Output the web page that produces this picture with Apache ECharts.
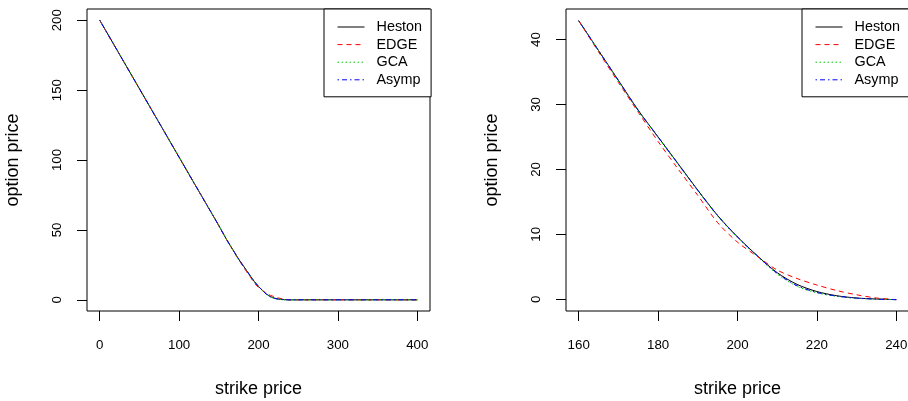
<!DOCTYPE html>
<html>
<head>
<meta charset="utf-8">
<script src="https://cdn.jsdelivr.net/npm/echarts@6/dist/echarts.min.js"></script>
<style>
  html, body { margin: 0; padding: 0; background: #fff; }
  #chart { width: 908px; height: 401px; }
</style>
</head>
<body>
<div id="chart"></div>
<script>
// Strike grid for the close-up panel (160..240)
const strikesNear = [160, 165, 170, 175, 180, 185, 190, 195, 200, 205, 210, 215, 220, 225, 230, 235, 240];
const hestonNear  = [42.9, 38.3, 33.7, 29.1, 25.0, 20.9, 16.8, 12.9, 9.6, 6.7, 4.1, 2.3, 1.2, 0.55, 0.2, 0.05, -0.05];
const edgeNear    = [42.9, 38.1, 33.4, 28.8, 24.3, 20.1, 16.0, 11.8, 8.8, 6.6, 4.5, 3.2, 2.2, 1.35, 0.7, 0.2, -0.05];
const gcaNear     = [42.9, 38.3, 33.6, 29.0, 24.9, 20.8, 16.7, 12.8, 9.5, 6.6, 3.9, 2.0, 1.0, 0.45, 0.15, 0.02, -0.05];
const asympNear   = [42.9, 38.3, 33.7, 29.1, 25.0, 20.9, 16.8, 12.9, 9.6, 6.7, 4.0, 2.1, 1.05, 0.5, 0.18, 0.03, -0.05];

// Deep in-the-money part and far out-of-the-money tail of the full panel
const strikesLow  = [0, 20, 40, 60, 80, 100, 120, 140, 150];
const pricesLow   = [200, 180.4, 160.8, 141.2, 121.6, 102.0, 82.4, 62.9, 53.1];
const strikesHigh = [250, 275, 300, 325, 350, 375, 400];
const pricesHigh  = [0, 0, 0, 0, 0, 0, 0];

// Axis ticks
const xTicksFull = [0, 100, 200, 300, 400];
const yTicksFull = [0, 50, 100, 150, 200];
const xTicksNear = [160, 180, 200, 220, 240];
const yTicksNear = [0, 10, 20, 30, 40];

const seriesNames = ['Heston', 'EDGE', 'GCA', 'Asymp'];
const nearValues = [hestonNear, edgeNear, gcaNear, asympNear];

const FONT = '"Liberation Sans", Arial, Helvetica, sans-serif';
const styles = [
  { color: '#000000', type: 'solid' },
  { color: '#ff0000', type: [5, 4] },
  { color: '#00cd00', type: [1.5, 2.5] },
  { color: '#0000ff', type: [1.5, 3, 5, 3] }
];

function pairs(xs, ys) { return xs.map((x, i) => [x, ys[i]]); }

const strikesFull = strikesLow.concat(strikesNear, strikesHigh);

function xAxisCfg(gridIndex, min, max, ticks) {
  return {
    type: 'value', gridIndex, min, max, position: 'bottom',
    name: 'strike price', nameLocation: 'middle', nameGap: 69,
    nameTextStyle: { fontFamily: FONT, fontSize: 18, color: '#000' },
    axisLine: { show: false, onZero: false },
    splitLine: { show: false },
    axisTick: { show: true, inside: false, length: 10, customValues: ticks, lineStyle: { color: '#000', width: 1 } },
    axisLabel: { customValues: ticks, margin: 28, fontFamily: FONT, fontSize: 13.3, color: '#000' }
  };
}
function yAxisCfg(gridIndex, min, max, ticks) {
  return {
    type: 'value', gridIndex, min, max, position: 'left',
    name: 'option price', nameLocation: 'middle', nameGap: 65,
    nameTextStyle: { fontFamily: FONT, fontSize: 18, color: '#000' },
    axisLine: { show: false, onZero: false },
    splitLine: { show: false },
    axisTick: { show: true, inside: false, length: 10, customValues: ticks, lineStyle: { color: '#000', width: 1 } },
    axisLabel: { customValues: ticks, rotate: 90, margin: 23, fontFamily: FONT, fontSize: 13.3, color: '#000' }
  };
}
function legendCfg(left) {
  return {
    left, top: 9, orient: 'vertical',
    data: seriesNames,
    backgroundColor: '#fff',
    borderColor: '#000', borderWidth: 1, borderRadius: 0,
    padding: [11, 9, 10, 13],
    itemWidth: 27, itemHeight: 14, itemGap: 3.6,
    itemStyle: { opacity: 0 },
    lineStyle: { width: 1 },
    textStyle: { fontFamily: FONT, fontSize: 14.4, color: '#000', lineHeight: 14, padding: [0, 0, 0, 7] },
    selectedMode: false
  };
}

const series = [];
seriesNames.forEach((name, i) => {
  const full = pricesLow.concat(nearValues[i], pricesHigh);
  series.push({
    name, type: 'line', xAxisIndex: 0, yAxisIndex: 0,
    data: pairs(strikesFull, full),
    symbol: 'none', smooth: false,
    lineStyle: { color: styles[i].color, type: styles[i].type, width: 1 },
    itemStyle: { color: styles[i].color }
  });
});
seriesNames.forEach((name, i) => {
  series.push({
    name, type: 'line', xAxisIndex: 1, yAxisIndex: 1,
    data: pairs(strikesNear, nearValues[i]),
    symbol: 'none', smooth: 0.3,
    lineStyle: { color: styles[i].color, type: styles[i].type, width: 1 },
    itemStyle: { color: styles[i].color }
  });
});

const gridBase = { top: 9, width: 343, height: 302, show: true, borderColor: '#000', borderWidth: 1,
  backgroundColor: 'transparent', containLabel: false, outerBoundsMode: 'none' };

const chart = echarts.init(document.getElementById('chart'), null, { renderer: 'canvas' });
chart.setOption({
  animation: false,
  backgroundColor: '#fff',
  grid: [
    Object.assign({ left: 87 }, gridBase),
    Object.assign({ left: 566 }, gridBase)
  ],
  xAxis: [ xAxisCfg(0, -16, 416, xTicksFull), xAxisCfg(1, 156.8, 243.2, xTicksNear) ],
  yAxis: [ yAxisCfg(0, -8, 208, yTicksFull), yAxisCfg(1, -1.8, 44.7, yTicksNear) ],
  legend: [ legendCfg(324), legendCfg(802) ],
  series
});
</script>
</body>
</html>
